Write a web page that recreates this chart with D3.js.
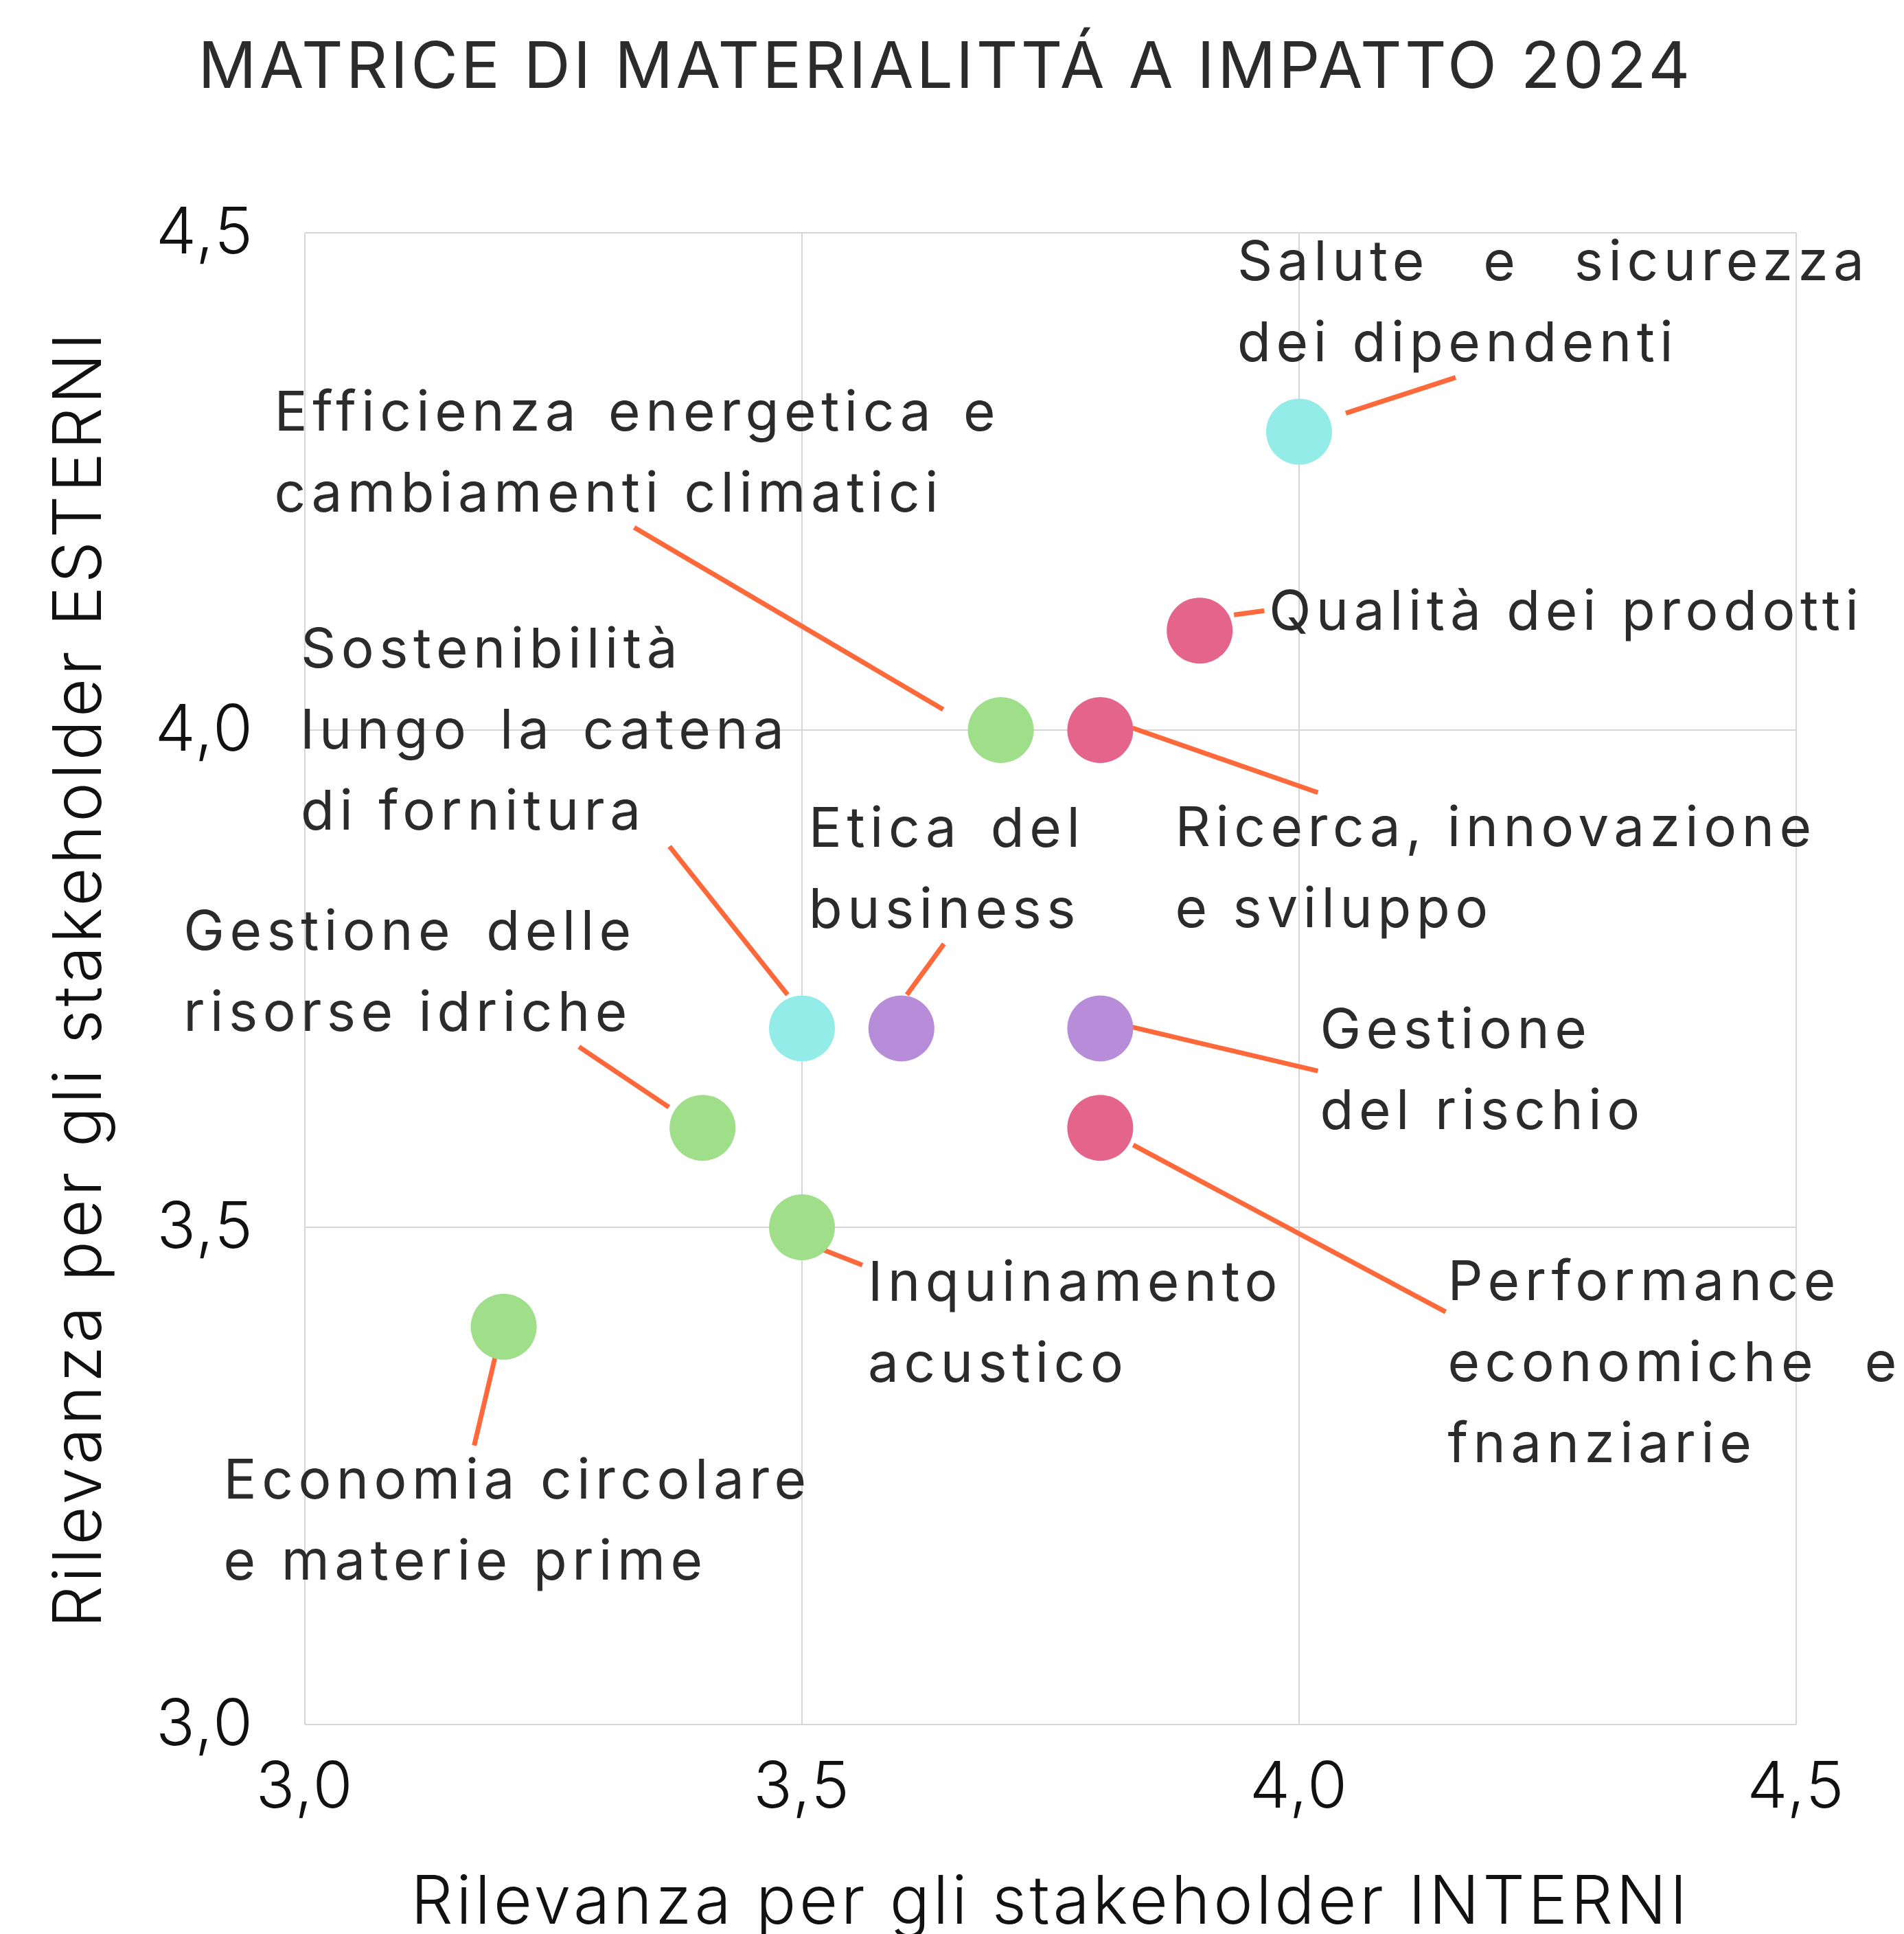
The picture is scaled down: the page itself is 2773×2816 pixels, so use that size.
<!DOCTYPE html>
<html>
<head>
<meta charset="utf-8">
<script src="https://cdn.jsdelivr.net/npm/d3@7"></script>
<style>
  html, body { margin: 0; padding: 0; background: #ffffff; }
  svg { display: block; }
</style>
</head>
<body>
<script>
// ---------------- DATA ----------------
const title = "MATRICE DI MATERIALITTÁ A IMPATTO 2024";
const xAxisTitle = "Rilevanza per gli stakeholder INTERNI";
const yAxisTitle = "Rilevanza per gli stakeholder ESTERNI";

const topics = [
  "Salute e sicurezza dei dipendenti",
  "Qualità dei prodotti",
  "Efficienza energetica e cambiamenti climatici",
  "Ricerca, innovazione e sviluppo",
  "Sostenibilità lungo la catena di fornitura",
  "Etica del business",
  "Gestione del rischio",
  "Gestione delle risorse idriche",
  "Performance economiche e fnanziarie",
  "Inquinamento acustico",
  "Economia circolare e materie prime"
];
// label lines as they appear in the chart
const topicLines = [
  ["Salute e sicurezza", "dei dipendenti"],
  ["Qualità dei prodotti"],
  ["Efficienza energetica e", "cambiamenti climatici"],
  ["Ricerca, innovazione", "e sviluppo"],
  ["Sostenibilità", "lungo la catena", "di fornitura"],
  ["Etica del", "business"],
  ["Gestione", "del rischio"],
  ["Gestione delle", "risorse idriche"],
  ["Performance", "economiche e", "fnanziarie"],
  ["Inquinamento", "acustico"],
  ["Economia circolare", "e materie prime"]
];
const interni = [4.0, 3.9, 3.7, 3.8, 3.5, 3.6, 3.8, 3.4, 3.8, 3.5, 3.2];
const esterni = [4.3, 4.1, 4.0, 4.0, 3.7, 3.7, 3.7, 3.6, 3.6, 3.5, 3.4];
const area    = ["Sociale", "Economico", "Ambientale", "Economico", "Sociale", "Governance",
                 "Governance", "Ambientale", "Economico", "Ambientale", "Ambientale"];

const xTicks = [3.0, 3.5, 4.0, 4.5];
const yTicks = [3.0, 3.5, 4.0, 4.5];
const tickLabels = ["3,0", "3,5", "4,0", "4,5"];

// ---------------- LAYOUT / STYLE ----------------
const W = 2773, H = 2816;
const plot = { left: 444, right: 2616, top: 339, bottom: 2511 };
const areaColors = {
  "Sociale": "#93ece8",
  "Economico": "#e5648b",
  "Ambientale": "#a0df8a",
  "Governance": "#b78cd9"
};
const leaderColor = "#fe693c";
const labelColor = "#2b2b2b";
const labelFont = "Inter, 'Noto Sans', sans-serif";
const labelSize = 80;
const labelTracking = 7.5;
const lineHeight = 118;
const radius = 48;

// annotation layout in pixels relative to each point: label first-baseline anchor,
// leader start & end, and optional justified line (index, target width)
const annot = [
  { lx: -90,   ly: -221, l0: [68, -27],  l1: [228, -79],  just: [0, 913] },
  { lx: 101,   ly: -1,   l0: [50, -23],  l1: [94, -29] },
  { lx: -1058, ly: -436, l0: [-534, -295], l1: [-84, -30], just: [0, 1050] },
  { lx: 109,   ly: 169,  l0: [47, -3],   l1: [317, 91] },
  { lx: -730,  ly: -525, l0: [-193, -265], l1: [-21, -49], just: [1, 704] },
  { lx: -135,  ly: -264, l0: [62, -123], l1: [8, -49],    just: [0, 395] },
  { lx: 320,   ly: 29,   l0: [46, -2],   l1: [317, 62] },
  { lx: -756,  ly: -259, l0: [-180, -118], l1: [-49, -30], just: [0, 652] },
  { lx: 506,   ly: 251,  l0: [48, 25],   l1: [503, 268],  just: [1, 654] },
  { lx: 96,    ly: 107,  l0: [29, 32],   l1: [88, 55] },
  { lx: -408,  ly: 250,  l0: [-12, 42],  l1: [-43, 173] }
];

const x = d3.scaleLinear().domain([3, 4.5]).range([plot.left, plot.right]);
const y = d3.scaleLinear().domain([3, 4.5]).range([plot.bottom, plot.top]);

const svg = d3.select("body").append("svg")
  .attr("width", W).attr("height", H)
  .attr("viewBox", `0 0 ${W} ${H}`);

svg.append("rect").attr("width", W).attr("height", H).attr("fill", "#fff");

// grid
const grid = svg.append("g").attr("stroke", "#d6d6d6").attr("stroke-width", 2).attr("fill", "none");
grid.selectAll("line.vx").data(xTicks).join("line")
  .attr("x1", d => x(d)).attr("x2", d => x(d))
  .attr("y1", y(3)).attr("y2", y(4.5));
grid.selectAll("line.hy").data(yTicks).join("line")
  .attr("y1", d => y(d)).attr("y2", d => y(d))
  .attr("x1", x(3)).attr("x2", x(4.5));

// tick labels
const tickFont = "Inter, 'Noto Sans', sans-serif";
svg.append("g").selectAll("text").data(xTicks).join("text")
  .attr("x", d => x(d)).attr("y", plot.bottom + 121)
  .attr("text-anchor", "middle")
  .attr("font-family", tickFont).attr("font-size", 94).attr("font-weight", 300)
  .attr("letter-spacing", 2)
  .attr("fill", "#111")
  .text((d, i) => tickLabels[i]);
svg.append("g").selectAll("text").data(yTicks).join("text")
  .attr("x", plot.left - 74).attr("y", d => y(d) + 30)
  .attr("text-anchor", "end")
  .attr("font-family", tickFont).attr("font-size", 94).attr("font-weight", 300)
  .attr("letter-spacing", 2)
  .attr("fill", "#111")
  .text((d, i) => tickLabels[i]);

// axis titles
svg.append("text")
  .attr("x", (plot.left + plot.right) / 2).attr("y", 2801)
  .attr("text-anchor", "middle")
  .attr("font-family", tickFont).attr("font-size", 97).attr("font-weight", 300)
  .attr("letter-spacing", 4.5)
  .attr("fill", "#111")
  .text(xAxisTitle);
svg.append("text")
  .attr("transform", `translate(147, ${(plot.top + plot.bottom) / 2}) rotate(-90)`)
  .attr("text-anchor", "middle")
  .attr("font-family", tickFont).attr("font-size", 97).attr("font-weight", 300)
  .attr("letter-spacing", 4.7)
  .attr("fill", "#111")
  .text(yAxisTitle);

// title
svg.append("text")
  .attr("x", 1377).attr("y", 128)
  .attr("text-anchor", "middle")
  .attr("font-family", labelFont).attr("font-size", 94).attr("font-weight", 400)
  .attr("letter-spacing", 4.3)
  .attr("fill", labelColor)
  .text(title);

const items = topics.map((t, i) => ({
  name: t, lines: topicLines[i], xi: interni[i], ye: esterni[i], area: area[i], a: annot[i]
}));

// leader lines
svg.append("g").selectAll("line").data(items).join("line")
  .attr("x1", d => x(d.xi) + d.a.l0[0]).attr("y1", d => y(d.ye) + d.a.l0[1])
  .attr("x2", d => x(d.xi) + d.a.l1[0]).attr("y2", d => y(d.ye) + d.a.l1[1])
  .attr("stroke", leaderColor).attr("stroke-width", 7);

// points
svg.append("g").selectAll("circle").data(items).join("circle")
  .attr("cx", d => x(d.xi)).attr("cy", d => y(d.ye)).attr("r", radius)
  .attr("fill", d => areaColors[d.area]);

// labels
const lg = svg.append("g");
items.forEach(d => {
  const bx = x(d.xi) + d.a.lx, by = y(d.ye) + d.a.ly;
  d.lines.forEach((ln, j) => {
    const t = lg.append("text")
      .attr("x", bx).attr("y", by + j * lineHeight)
      .attr("font-family", labelFont).attr("font-size", labelSize)
      .attr("letter-spacing", labelTracking)
      .attr("fill", labelColor)
      .text(ln);
    if (d.a.just && d.a.just[0] === j) {
      const nat = t.node().getComputedTextLength() - labelTracking;
      const gaps = (ln.match(/ /g) || []).length;
      if (gaps > 0) t.attr("word-spacing", Math.max(0, (d.a.just[1] - nat) / gaps));
    }
  });
});
</script>
</body>
</html>
